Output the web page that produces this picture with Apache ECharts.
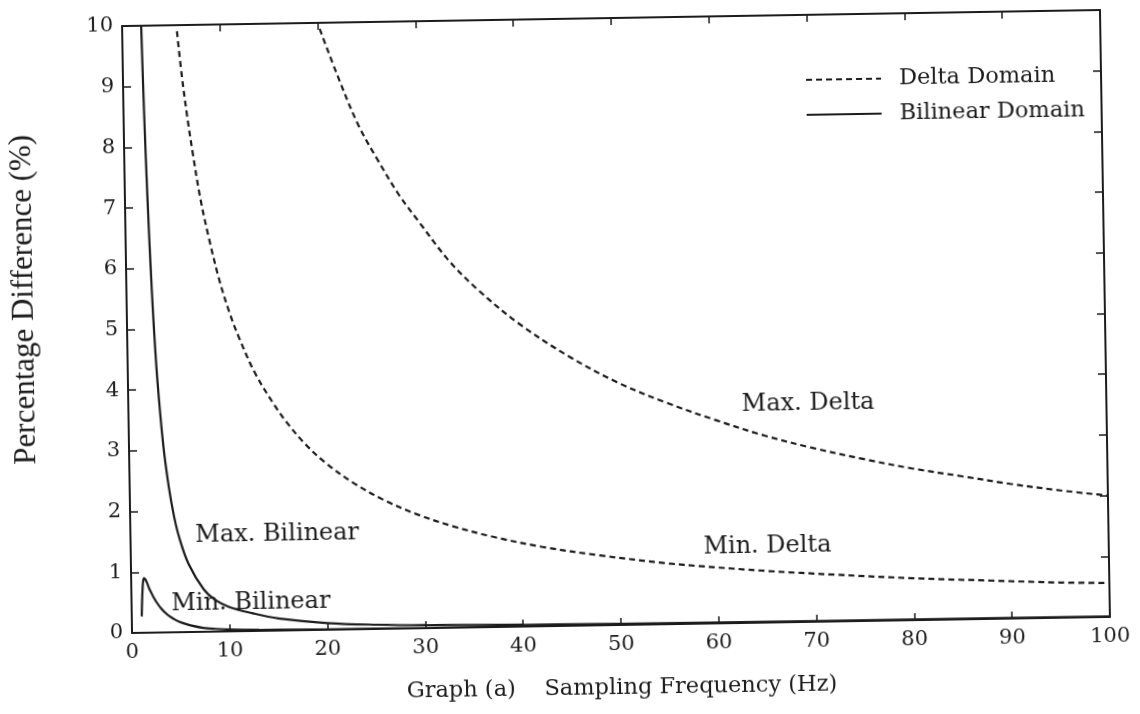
<!DOCTYPE html>
<html>
<head>
<meta charset="utf-8">
<script src="https://cdn.jsdelivr.net/npm/echarts@6/dist/echarts.min.js"></script>
<style>
  html, body { margin: 0; padding: 0; background: #ffffff; overflow: hidden; }
  #chart {
    width: 1140px; height: 714px; background: #ffffff;
    transform: rotate(-0.94deg);
    transform-origin: 616px 321.5px;
  }
</style>
</head>
<body>
<div id="chart"></div>
<script>
// Percentage difference vs. sampling frequency (Graph (a))
const xTicks = [0, 10, 20, 30, 40, 50, 60, 70, 80, 90, 100];
const yTicks = [0, 1, 2, 3, 4, 5, 6, 7, 8, 9, 10];

// Delta domain, maximum difference
const maxDeltaFreq = [20.2, 22, 24, 26, 28, 30, 33, 36, 40, 45, 50, 55, 60, 65, 70, 75, 80, 85, 90, 95, 100];
const maxDeltaPct  = [9.9, 9.1, 8.3, 7.7, 7.15, 6.7, 6.05, 5.55, 5.0, 4.45, 4.0, 3.65, 3.35, 3.08, 2.86, 2.67, 2.5, 2.36, 2.22, 2.1, 2.0];

// Delta domain, minimum difference
const minDeltaFreq = [5.6, 6, 6.5, 7, 7.7, 8.5, 9.5, 10.5, 11.4, 13, 15, 16.2, 18, 20, 23, 26, 29.3, 33, 37, 42, 48, 55, 58, 65, 72, 80, 88, 95, 100];
const minDeltaPct  = [9.9, 9.2, 8.5, 7.9, 7.15, 6.5, 5.8, 5.25, 4.85, 4.25, 3.7, 3.42, 3.07, 2.76, 2.4, 2.12, 1.88, 1.67, 1.49, 1.31, 1.15, 1.0, 0.95, 0.85, 0.77, 0.69, 0.63, 0.58, 0.56];

// Bilinear domain, maximum difference
const maxBilFreq = [1.95, 2.1, 2.3, 2.5, 2.7, 3.0, 3.5, 4.0, 4.5, 5.0, 5.9, 7.4, 8.5, 10, 12.4, 15, 20, 25, 30, 40, 60, 80, 100];
const maxBilPct  = [10, 8.6, 7.2, 6.1, 5.2, 4.2, 3.1, 2.4, 1.9, 1.55, 1.12, 0.7, 0.53, 0.4, 0.29, 0.2, 0.11, 0.07, 0.05, 0.03, 0.015, 0.01, 0.008];

// Bilinear domain, minimum difference
const minBilFreq = [1.02, 1.08, 1.15, 1.22, 1.32, 1.45, 1.6, 1.8, 2.0, 2.24, 2.6, 3.0, 3.4, 3.9, 4.5, 5.2, 6, 7.3, 8.5, 10, 13, 17, 22, 30, 45, 70, 100];
const minBilPct  = [0.27, 0.52, 0.72, 0.85, 0.9, 0.88, 0.83, 0.74, 0.67, 0.59, 0.49, 0.4, 0.33, 0.26, 0.2, 0.15, 0.11, 0.065, 0.045, 0.03, 0.018, 0.011, 0.007, 0.004, 0.002, 0.001, 0.0005];

// Curve annotations: [text, x, y] in data units (text centre)
const curveNotes = [
  ['Max. Bilinear', 15.0, 1.59],
  ['Min. Bilinear', 12.2, 0.46],
  ['Max. Delta', 69.5, 3.6],
  ['Min. Delta', 65.1, 1.25]
];

const INK = '#1c1c1c';
const TICK_FONT = 'DejaVu Serif';
const pairs = (xs, ys) => xs.map((x, i) => [x, ys[i]]);

const chart = echarts.init(document.getElementById('chart'), null, { renderer: 'canvas' });

const baseX = {
  type: 'value', min: xTicks[0], max: xTicks[xTicks.length - 1], interval: 10,
  axisLine: { show: true, onZero: false, lineStyle: { color: INK, width: 2 } },
  axisTick: { show: true, inside: true, length: 7, lineStyle: { color: INK, width: 1.5 } },
  splitLine: { show: false }
};
const baseY = {
  type: 'value', min: yTicks[0], max: yTicks[yTicks.length - 1], interval: 1,
  axisLine: { show: true, onZero: false, lineStyle: { color: INK, width: 2 } },
  axisTick: { show: true, inside: true, length: 8, lineStyle: { color: INK, width: 1.5 } },
  splitLine: { show: false }
};

const lineSeries = (name, data, dashed) => ({
  name, type: 'line', data, xAxisIndex: 0, yAxisIndex: 0,
  showSymbol: false, symbol: 'none', smooth: 0.35,
  clip: true, silent: true, animation: false,
  itemStyle: { color: INK },
  lineStyle: { color: INK, width: 2.2, type: dashed ? [6, 4] : 'solid' }
});

chart.setOption({
  animation: false,
  backgroundColor: '#ffffff',
  grid: { left: 127, top: 18, width: 978, height: 607, containLabel: false },
  legend: {
    orient: 'vertical', left: 804, top: 66,
    itemWidth: 75, itemHeight: 20, itemGap: 11,
    data: ['Delta Domain', 'Bilinear Domain'],
    selectedMode: false,
    itemStyle: { color: 'rgba(0,0,0,0)', borderColor: 'rgba(0,0,0,0)', borderWidth: 0, opacity: 0 },
    textStyle: { fontFamily: TICK_FONT, fontSize: 22.5, color: INK, padding: [0, 0, 0, 13], lineHeight: 24 }
  },
  xAxis: [
    Object.assign({}, baseX, {
      position: 'bottom',
      axisLabel: { show: true, fontFamily: TICK_FONT, fontSize: 21, color: INK, margin: 9 },
      name: 'Graph (a)    Sampling Frequency (Hz)',
      nameLocation: 'middle', nameGap: 52,
      nameTextStyle: { fontFamily: TICK_FONT, fontSize: 22.5, color: INK }
    }),
    Object.assign({}, baseX, { position: 'top', axisLabel: { show: false } })
  ],
  yAxis: [
    Object.assign({}, baseY, {
      position: 'left',
      axisLabel: { show: true, fontFamily: TICK_FONT, fontSize: 21, color: INK, margin: 9 }
    }),
    Object.assign({}, baseY, { position: 'right', axisLabel: { show: false } })
  ],
  series: [
    lineSeries('Delta Domain', pairs(maxDeltaFreq, maxDeltaPct), true),
    lineSeries('Delta Domain', pairs(minDeltaFreq, minDeltaPct), true),
    lineSeries('Bilinear Domain', pairs(maxBilFreq, maxBilPct), false),
    lineSeries('Bilinear Domain', pairs(minBilFreq, minBilPct), false)
  ]
});

// Curve labels placed through the axes' own scales, plus the vertical axis title
const noteGraphics = curveNotes.map(([text, x, y]) => {
  const p = chart.convertToPixel({ xAxisIndex: 0, yAxisIndex: 0 }, [x, y]);
  return {
    type: 'text', x: p[0], y: p[1], silent: true,
    style: { text, fill: INK, font: '24px "DejaVu Serif"', textAlign: 'center', textVerticalAlign: 'middle' }
  };
});
noteGraphics.push({
  type: 'text', x: 25, y: 290, rotation: Math.PI / 2, silent: true,
  style: { text: 'Percentage Difference (%)', fill: INK, font: '31px "Liberation Serif"', textAlign: 'center', textVerticalAlign: 'middle' }
});
chart.setOption({ graphic: noteGraphics });
</script>
</body>
</html>
